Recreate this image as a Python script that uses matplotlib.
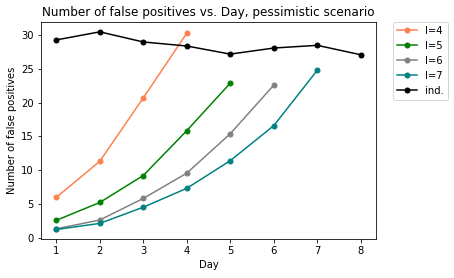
import numpy as np
import matplotlib
matplotlib.use('Agg')
import matplotlib.pyplot as plt

# Data
days = [1, 2, 3, 4, 5, 6, 7, 8]
fp_l4 = [5.95, 11.3, 20.7, 30.3]
fp_l5 = [2.55, 5.2, 9.2, 15.85, 22.9]
fp_l6 = [1.3, 2.6, 5.8, 9.55, 15.4, 22.6]
fp_l7 = [1.2, 2.1, 4.5, 7.3, 11.4, 16.6, 24.8]
fp_ind = [29.3, 30.5, 29.0, 28.4, 27.2, 28.1, 28.5, 27.1]

series = [
    ('l=4', fp_l4, 'coral'),
    ('l=5', fp_l5, 'green'),
    ('l=6', fp_l6, 'grey'),
    ('l=7', fp_l7, 'teal'),
    ('ind.', fp_ind, 'black'),
]

# Plot
fig = plt.figure(figsize=(454 / 72, 278 / 72), dpi=72)
ax = fig.add_axes([0.0903, 0.139, 0.738, 0.782])
for label, vals, color in series:
    ax.plot(days[:len(vals)], vals, marker='o', markersize=5, color=color, label=label)
ax.set_title('Number of false positives vs. Day, pessimistic scenario')
ax.set_xlabel('Day')
ax.set_ylabel('Number of false positives')
ax.set_xticks(days)
ax.legend(bbox_to_anchor=(1.05, 1), loc='upper left', borderaxespad=0.)
fig.savefig('out.png', dpi=72)
